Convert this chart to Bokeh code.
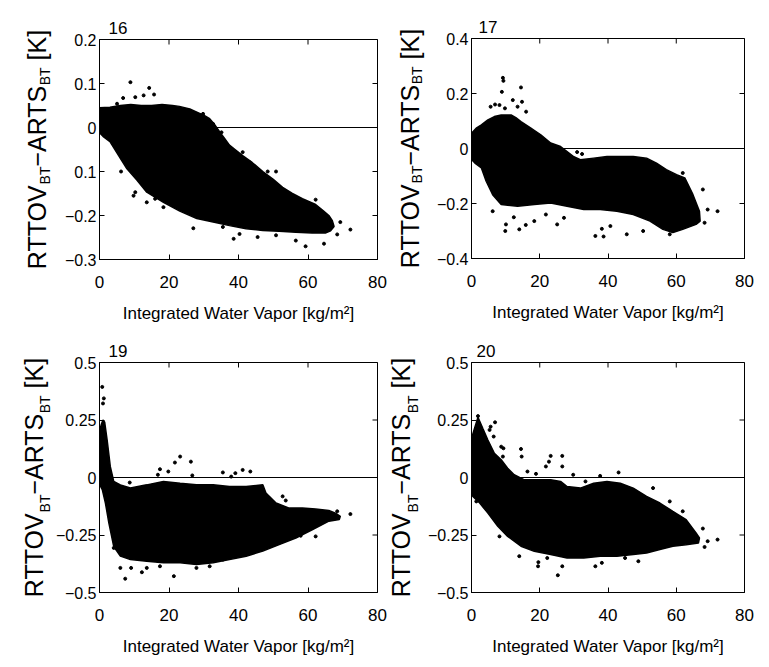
import math
from bokeh.plotting import figure
from bokeh.models import Span, FixedTicker, Range1d
from bokeh.core.properties import value
from bokeh.layouts import column, row
from bokeh.embed import file_html
from bokeh.resources import INLINE

# ---------------- data ----------------
X_TICKS = [0, 20, 40, 60, 80]
X_LABEL = "Integrated Water Vapor [kg/m²]"
ZERO_LINE = 0
Y_LABEL_PARTS = ["RTTOV", "BT", "−ARTS", "BT", "[K]"]   # "BT" parts are subscripts

# panel 16
T16 = "16"
Y16_TICKS = [-0.3, -0.2, -0.1, 0, 0.1, 0.2]
Y16_LABELS = ["−0.3", "−0.2", "0.1", "0", "0.1", "0.2"]
C16_UP_X = [0, 3, 6, 9, 12, 15, 18, 21, 23, 26, 28, 30, 31.7, 33, 34.6, 36, 37.4, 39, 41.2, 44, 47, 50, 52.7, 55.5, 58.4, 62.2, 64.5, 66, 67, 67.5]
C16_UP_Y = [0.045, 0.046, 0.05, 0.052, 0.05, 0.05, 0.052, 0.05, 0.048, 0.042, 0.035, 0.028, 0.02, 0.008, -0.01, -0.025, -0.04, -0.05, -0.064, -0.08, -0.1, -0.118, -0.136, -0.15, -0.162, -0.175, -0.19, -0.2, -0.212, -0.225]
C16_LO_X = [66.5, 65, 61.2, 56.5, 51.7, 47, 42.2, 37.4, 32.7, 28, 23.1, 18.4, 13.6, 10.8, 7.9, 6, 3.1, 1, 0]
C16_LO_Y = [-0.235, -0.24, -0.24, -0.238, -0.236, -0.234, -0.23, -0.223, -0.215, -0.207, -0.19, -0.17, -0.147, -0.12, -0.094, -0.07, -0.033, -0.02, -0.012]
P16_X = [8.9, 14.3, 15.7, 6.8, 10.3, 12.7, 5.05, 27, 38.6, 40.3, 45.5, 50.8, 56.5, 59.3, 64.6, 68.4, 69.3, 72.2, 62.2, 6.2, 9.8, 10.3, 13.6, 18.4, 16, 41.2, 43.2, 48.4, 50.8, 35.1, 32.7, 29.8, 35.5]
P16_Y = [0.103, 0.09, 0.075, 0.067, 0.069, 0.073, 0.054, -0.229, -0.253, -0.242, -0.249, -0.245, -0.257, -0.27, -0.264, -0.243, -0.215, -0.232, -0.164, -0.1, -0.155, -0.147, -0.17, -0.181, -0.162, -0.056, -0.079, -0.1, -0.1, -0.011, 0.008, 0.031, -0.226]

# panel 17
T17 = "17"
Y17_TICKS = [-0.4, -0.2, 0, 0.2, 0.4]
Y17_LABELS = ["−0.4", "−0.2", "0", "0.2", "0.4"]
C17_UP_X = [0, 1.5, 2.9, 4.8, 6.7, 8.7, 11.6, 13, 14.5, 17.4, 20.3, 23.2, 26.1, 28, 30, 31.9, 35.8, 39.7, 43.6, 47.4, 51.3, 54.2, 57.1, 60.1, 62.5, 64.9, 66.8, 67]
C17_UP_Y = [0.055, 0.075, 0.086, 0.104, 0.116, 0.122, 0.122, 0.112, 0.098, 0.074, 0.05, 0.02, 0.007, -0.011, -0.03, -0.041, -0.035, -0.029, -0.029, -0.029, -0.035, -0.053, -0.077, -0.095, -0.107, -0.168, -0.228, -0.264]
C17_LO_X = [65.8, 61.9, 59, 56.1, 52.3, 47.4, 42.6, 37.7, 32.9, 28, 23.2, 18.4, 13.5, 8.7, 6.2, 4.3, 2.9, 1, 0]
C17_LO_Y = [-0.276, -0.294, -0.306, -0.294, -0.264, -0.24, -0.228, -0.222, -0.222, -0.21, -0.198, -0.204, -0.21, -0.204, -0.168, -0.119, -0.071, -0.053, -0.04]
P17_X = [9.2, 9.35, 8.9, 14.5, 12.1, 14.8, 13.5, 6.9, 8.2, 5.6, 16, 9.8, 6.2, 10.1, 9.9, 14, 12.4, 15.9, 18.4, 21.8, 25.1, 27.1, 36.3, 38.7, 38.2, 40.7, 45.5, 50.3, 67.8, 69.2, 72.1, 68.3, 32.4, 30.95, 61.9, 58.1]
P17_Y = [0.257, 0.246, 0.206, 0.222, 0.176, 0.17, 0.152, 0.16, 0.158, 0.152, 0.134, 0.146, -0.228, -0.276, -0.3, -0.294, -0.25, -0.278, -0.264, -0.24, -0.276, -0.252, -0.318, -0.32, -0.292, -0.282, -0.312, -0.3, -0.149, -0.222, -0.228, -0.27, -0.02, -0.013, -0.089, -0.312]

# panel 19
T19 = "19"
Y19_TICKS = [-0.5, -0.25, 0, 0.25, 0.5]
Y19_LABELS = ["−0.5", "−0.25", "0", "0.25", "0.5"]
C19_UP_X = [0, 0.5, 1.0, 1.5, 2.2, 2.7, 3.1, 4.1, 6, 8.9, 13.6, 18.4, 23.2, 27.9, 32.7, 37.4, 42.2, 47, 47.9, 50.8, 54.6, 58.4, 62.2, 66, 67.9, 69.3]
C19_UP_Y = [0.2, 0.23, 0.25, 0.24, 0.163, 0.1, 0.048, -0.017, -0.032, -0.046, -0.032, -0.017, -0.025, -0.032, -0.032, -0.039, -0.039, -0.032, -0.068, -0.111, -0.133, -0.133, -0.137, -0.143, -0.155, -0.169]
C19_LO_X = [69, 66, 61.2, 56.5, 51.7, 47, 42.2, 37.4, 32.7, 27.9, 23.2, 18.4, 13.6, 8.9, 6, 4.1, 2.7, 1.7, 0.8, 0]
C19_LO_Y = [-0.183, -0.19, -0.227, -0.263, -0.292, -0.32, -0.342, -0.357, -0.371, -0.378, -0.371, -0.371, -0.364, -0.357, -0.342, -0.3, -0.198, -0.111, -0.053, -0.03]
P19_X = [0.8, 1.25, 1.0, 23.2, 21.7, 26.3, 17.4, 19.8, 16.8, 26.7, 35.5, 41.2, 43.4, 39.1, 37.9, 8.7, 52.7, 53.6, 72.2, 68.4, 62.2, 57.9, 21.4, 7.4, 6.0, 4.1, 12.2, 13.6, 17.4, 27.9, 31.7, 35.5, 45.1, 49.8, 9.1]
P19_Y = [0.394, 0.344, 0.322, 0.091, 0.065, 0.069, 0.036, 0.026, 0.012, 0.009, 0.022, 0.033, 0.026, 0.019, 0.004, -0.022, -0.082, -0.1, -0.159, -0.147, -0.256, -0.253, -0.429, -0.44, -0.393, -0.306, -0.412, -0.393, -0.386, -0.393, -0.386, -0.357, -0.313, -0.285, -0.393]

# panel 20
T20 = "20"
Y20_TICKS = [-0.5, -0.25, 0, 0.25, 0.5]
Y20_LABELS = ["−0.5", "−0.25", "0", "0.25", "0.5"]
C20_UP_X = [0, 0.9, 1.9, 3.3, 4.8, 6.7, 8.7, 10.6, 12.5, 15.5, 18.4, 23.2, 26.1, 28, 31.9, 35.8, 39.7, 43.6, 47.4, 51.3, 55.2, 59, 62.9, 65.8, 66.8]
C20_UP_Y = [0.17, 0.214, 0.262, 0.214, 0.163, 0.105, 0.077, 0.04, 0.012, -0.01, -0.01, -0.01, -0.017, -0.039, -0.046, -0.025, -0.017, -0.025, -0.046, -0.082, -0.111, -0.147, -0.183, -0.241, -0.263]
C20_LO_X = [66.5, 62.9, 59, 55.2, 51.3, 47.4, 42.6, 37.7, 32.9, 28, 23.2, 18.4, 14.5, 10.6, 7.7, 4.8, 2.4, 0.4, 0]
C20_LO_Y = [-0.285, -0.292, -0.299, -0.313, -0.328, -0.335, -0.342, -0.342, -0.35, -0.35, -0.335, -0.321, -0.299, -0.256, -0.212, -0.155, -0.111, -0.082, -0.07]
P20_X = [1.9, 6.9, 5.6, 5.3, 6.5, 8.7, 9.35, 9.2, 14.5, 14.7, 23.2, 26.6, 21.8, 22.7, 26.6, 16.4, 18.9, 29.8, 43.1, 37.7, 33.4, 53.2, 58.1, 61.9, 67.8, 69.2, 72.1, 68.3, 14.0, 19.5, 19.6, 25.3, 26.6, 36.3, 38.2, 48.9, 45.0, 22.2, 8.2, 1.4]
P20_Y = [0.267, 0.24, 0.221, 0.207, 0.178, 0.134, 0.127, 0.091, 0.124, 0.091, 0.094, 0.094, 0.048, 0.069, 0.048, 0.026, 0.016, 0.012, 0.022, 0.007, -0.017, -0.046, -0.104, -0.147, -0.222, -0.277, -0.27, -0.302, -0.342, -0.386, -0.368, -0.425, -0.386, -0.386, -0.371, -0.364, -0.35, -0.35, -0.256, -0.104]

# ---------------- styling ----------------
FONT = "Liberation Sans"
ARIAL_W = {"R": .722, "T": .611, "O": .778, "V": .667, "A": .667, "S": .667, "B": .667,
           "−": .584, " ": .278, "[": .278, "K": .667, "]": .278}
MAIN_SIZE = 25
SUB_SIZE = 14


def tw(s, size):
    return sum(ARIAL_W[c] for c in s) * size


def panel(title, title_off, yticks, ylabels, ux, uy, lx, ly, px, py,
          width, height, bl, br, bt, bb):
    ymin, ymax = yticks[0], yticks[-1]
    p = figure(width=width, height=height,
               x_range=Range1d(X_TICKS[0], X_TICKS[-1]), y_range=Range1d(ymin, ymax),
               min_border_left=bl, min_border_right=br, min_border_top=bt, min_border_bottom=bb,
               output_backend="svg", toolbar_location=None)
    p.xgrid.visible = False
    p.ygrid.visible = False
    p.outline_line_color = "black"
    p.outline_line_alpha = 1
    p.outline_line_width = 1

    p.title.text = title
    p.title.align = "left"
    p.title.offset = title_off
    p.title.standoff = 12
    p.title.text_font = FONT
    p.title.text_font_size = "17px"
    p.title.text_font_style = "normal"
    p.title.text_color = "black"

    for ax in (p.xaxis[0], p.yaxis[0]):
        ax.minor_tick_line_color = None
        ax.major_tick_in = 5
        ax.major_tick_out = 0
        ax.axis_line_color = "black"
        ax.major_tick_line_color = "black"
        ax.major_label_text_font = FONT
        ax.major_label_text_color = "black"
    p.xaxis.major_label_text_font_size = "17px"
    p.yaxis.major_label_text_font_size = "16px"
    p.xaxis.ticker = FixedTicker(ticks=X_TICKS)
    p.xaxis.major_label_standoff = 16
    p.xaxis.axis_label = X_LABEL
    p.xaxis.axis_label_text_font = FONT
    p.xaxis.axis_label_text_font_size = "17px"
    p.xaxis.axis_label_text_font_style = "normal"
    p.xaxis.axis_label_text_color = "black"
    p.xaxis.axis_label_standoff = 13
    p.yaxis.ticker = FixedTicker(ticks=yticks)
    p.yaxis.major_label_standoff = 3
    p.yaxis.major_label_overrides = {t: s for t, s in zip(yticks, ylabels)}

    p.add_layout(Span(location=ZERO_LINE, dimension="width", line_color="black",
                      line_width=1, level="underlay"))

    # dense cloud of points (envelope) and the isolated points around it
    p.patch(x=ux + lx, y=uy + ly, fill_color="black", line_color="black", line_width=1.5)
    p.scatter(x=px, y=py, marker="circle", size=3, color="black")

    # inward ticks on top and right edges (box on)
    p.scatter(x=X_TICKS, y=[ymax] * len(X_TICKS), marker="dash", angle=math.pi / 2,
              size=10, line_color="black", line_width=1)
    p.scatter(x=[X_TICKS[-1]] * len(yticks), y=yticks, marker="dash",
              size=10, line_color="black", line_width=1)
    return p


def ylabel_fig(width, height, main_cx, sub_cx, bt, bb):
    """Narrow strip holding the rotated y label (with subscripts) of the panel to its right."""
    q = figure(width=width, height=height, x_range=Range1d(0, width), y_range=Range1d(0, height),
               min_border=0, x_axis_type=None, y_axis_type=None,
               output_backend="svg", toolbar_location=None)
    q.outline_line_color = None
    frame_h = height - bt - bb
    sizes = [SUB_SIZE if i % 2 else MAIN_SIZE for i in range(len(Y_LABEL_PARTS))]
    gaps = [0, 0, 0, tw(" ", MAIN_SIZE), 0]
    total = sum(tw(s, z) for s, z in zip(Y_LABEL_PARTS, sizes)) + sum(gaps)
    pos = bb + frame_h / 2 - total / 2
    mx, my, mt, sx, sy, st = [], [], [], [], [], []
    for i, (s, z) in enumerate(zip(Y_LABEL_PARTS, sizes)):
        if i % 2:
            sx.append(sub_cx); sy.append(pos); st.append(s)
        else:
            mx.append(main_cx); my.append(pos); mt.append(s)
        pos += tw(s, z) + gaps[i]
    q.text(x=mx, y=my, text=mt, angle=math.pi / 2, text_font=value(FONT),
           text_font_size=value(f"{MAIN_SIZE}px"), text_color="black",
           text_baseline="middle", text_align="left")
    q.text(x=sx, y=sy, text=st, angle=math.pi / 2, text_font=value(FONT),
           text_font_size=value(f"{SUB_SIZE}px"), text_color="black",
           text_baseline="middle", text_align="left")
    return q


H_TOP, H_BOT = 332, 326
SA, SC = 53, 38          # label strip widths
BL = 44                  # left border of the plots

p16 = panel(T16, 9, Y16_TICKS, Y16_LABELS, C16_UP_X, C16_UP_Y, C16_LO_X, C16_LO_Y, P16_X, P16_Y,
            BL + 280 + 10, H_TOP, BL, 10, 39, 73)
p19 = panel(T19, 9, Y19_TICKS, Y19_LABELS, C19_UP_X, C19_UP_Y, C19_LO_X, C19_LO_Y, P19_X, P19_Y,
            BL + 280 + 10, H_BOT, BL, 10, 30, 66)
p17 = panel(T17, 7, Y17_TICKS, Y17_LABELS, C17_UP_X, C17_UP_Y, C17_LO_X, C17_LO_Y, P17_X, P17_Y,
            BL + 275 + 20, H_TOP, BL, 20, 38, 74)
p20 = panel(T20, 5, Y20_TICKS, Y20_LABELS, C20_UP_X, C20_UP_Y, C20_LO_X, C20_LO_Y, P20_X, P20_Y,
            BL + 275 + 20, H_BOT, BL, 20, 30, 66)

l16 = ylabel_fig(SA, H_TOP, 36, 44.5, 39, 73)
l19 = ylabel_fig(SA, H_BOT, 33.5, 44.5, 30, 66)
l17 = ylabel_fig(SC, H_TOP, 22, 29.5, 38, 74)
l20 = ylabel_fig(SC, H_BOT, 13.5, 25, 30, 66)

layout = row(column(l16, l19), column(p16, p19), column(l17, l20), column(p17, p20))
open("out.html", "w").write(file_html(layout, INLINE))
